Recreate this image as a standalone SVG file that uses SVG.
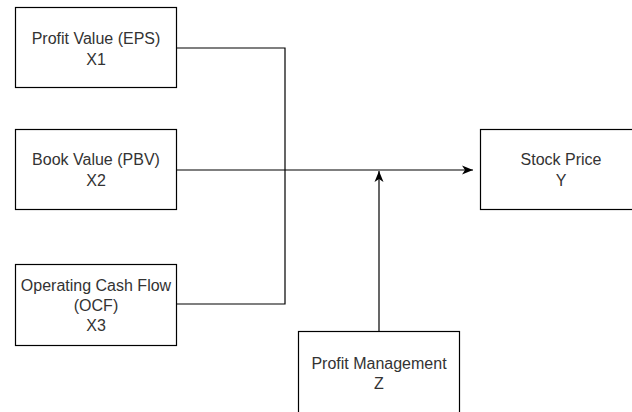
<svg xmlns="http://www.w3.org/2000/svg" width="632" height="412" viewBox="0 0 632 412">
<style>
.box{fill:#fff;stroke:#000;stroke-width:1.2}
.t{font-family:"Liberation Sans",Arial,sans-serif;font-size:16px;fill:#333;text-anchor:middle}
.c{fill:none;stroke:#000;stroke-width:1.2}
</style>
<defs>
<marker id="arr" markerUnits="userSpaceOnUse" markerWidth="12" markerHeight="10" viewBox="0 0 12 10" refX="11" refY="5" orient="auto">
<path d="M0,0.5 L11,5 L0,9.5 L3,5 z" fill="#000"/>
</marker>
</defs>
<rect width="632" height="412" fill="#fff"/>
<g id="connectors">
<path class="c" d="M177,48 H285 V304 H177"/>
<path class="c" d="M177,170 H473" marker-end="url(#arr)"/>
<path class="c" d="M379,332 V171" marker-end="url(#arr)"/>
</g>
<g id="x1">
<rect class="box" x="15.5" y="7.5" width="161" height="80"/>
<text class="t" x="96" y="44">Profit Value (EPS)</text>
<text class="t" x="96" y="64.5">X1</text>
</g>
<g id="x2">
<rect class="box" x="15.5" y="129.5" width="161" height="80"/>
<text class="t" x="96" y="165">Book Value (PBV)</text>
<text class="t" x="96" y="185.5">X2</text>
</g>
<g id="x3">
<rect class="box" x="15.5" y="264.5" width="161" height="81"/>
<text class="t" x="96" y="291">Operating Cash Flow</text>
<text class="t" x="96" y="311">(OCF)</text>
<text class="t" x="96" y="331">X3</text>
</g>
<g id="y">
<rect class="box" x="480.5" y="129.5" width="161" height="80"/>
<text class="t" x="561" y="165">Stock Price</text>
<text class="t" x="561" y="185.5">Y</text>
</g>
<g id="z">
<rect class="box" x="298.5" y="331.5" width="161" height="90"/>
<text class="t" x="379" y="368.5">Profit Management</text>
<text class="t" x="379" y="388.5">Z</text>
</g>
</svg>
